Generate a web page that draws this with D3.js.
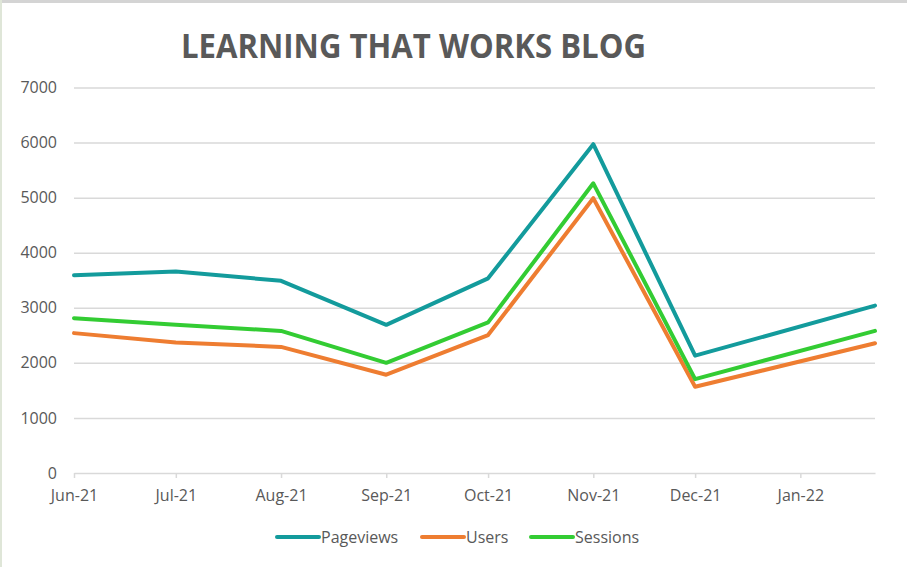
<!DOCTYPE html>
<html>
<head>
<meta charset="utf-8">
<script src="https://cdn.jsdelivr.net/npm/d3@7"></script>
<style>
  body { margin: 0; background: #fff; }
  svg { display: block; }
</style>
</head>
<body>
<svg id="chart" width="907" height="567"></svg>
<script>
// data
const dates = ['2021-06-01', '2021-07-01', '2021-08-01', '2021-09-01', '2021-10-01',
               '2021-11-01', '2021-12-01', '2022-01-23'];
const pageviews = [3590, 3660, 3490, 2690, 3535, 5970, 2130, 3040];
const users = [2540, 2370, 2290, 1785, 2505, 4990, 1565, 2355];
const sessions = [2810, 2690, 2580, 2000, 2735, 5260, 1705, 2580];
const yTicks = [0, 1000, 2000, 3000, 4000, 5000, 6000, 7000];
const monthTicks = ['2021-06-01', '2021-07-01', '2021-08-01', '2021-09-01', '2021-10-01',
                    '2021-11-01', '2021-12-01', '2022-01-01'];

const series = [
  { name: 'Pageviews', values: pageviews, color: '#139b9c' },
  { name: 'Users', values: users, color: '#ee7d31' },
  { name: 'Sessions', values: sessions, color: '#33cc33' }
];

const parse = d3.utcParse('%Y-%m-%d');
const fmt = d3.utcFormat('%b-%y');
const W = 907, H = 567;
const margin = { left: 74, right: 32, top: 87.5, bottom: 94 };
const font = 'Open Sans, sans-serif';

const svg = d3.select('#chart');

// chart frame
svg.append('line').attr('x1', 0).attr('x2', W).attr('y1', 1.5).attr('y2', 1.5)
  .attr('stroke', '#d4d4d4').attr('stroke-width', 3);
svg.append('line').attr('x1', 1).attr('x2', 1).attr('y1', 0).attr('y2', H)
  .attr('stroke', '#dfe6d8').attr('stroke-width', 2);

const x = d3.scaleUtc()
  .domain([parse(dates[0]), parse(dates[dates.length - 1])])
  .range([margin.left, W - margin.right]);
const y = d3.scaleLinear()
  .domain([0, 7000])
  .range([H - margin.bottom, margin.top]);

// title
svg.append('text')
  .attr('x', 413.5).attr('y', 58)
  .attr('text-anchor', 'middle')
  .attr('font-family', font)
  .attr('font-weight', 'bold')
  .attr('font-size', 34)
  .attr('fill', '#595959')
  .attr('textLength', 465)
  .attr('lengthAdjust', 'spacingAndGlyphs')
  .text('LEARNING THAT WORKS BLOG');

// grid
const yAxis = svg.append('g')
  .attr('transform', `translate(${margin.left},0)`)
  .call(d3.axisLeft(y).tickValues(yTicks).tickFormat(d3.format('d'))
    .tickSize(-(W - margin.left - margin.right)).tickPadding(17));
yAxis.select('.domain').remove();
yAxis.selectAll('.tick line').attr('stroke', '#d9d9d9').attr('stroke-width', 1.5)
  .attr('display', d => d === 0 ? 'none' : null);
yAxis.selectAll('.tick text')
  .attr('font-family', font).attr('font-size', 16).attr('fill', '#595959');

// x axis
const xAxis = svg.append('g')
  .attr('transform', `translate(0,${y(0)})`)
  .call(d3.axisBottom(x).tickValues(monthTicks.map(parse)).tickFormat(fmt)
    .tickSize(5).tickPadding(12).tickSizeOuter(0));
xAxis.select('.domain').attr('stroke', '#d9d9d9').attr('stroke-width', 1.5);
xAxis.selectAll('.tick line').attr('stroke', '#d9d9d9').attr('stroke-width', 1.5);
xAxis.selectAll('.tick text')
  .attr('font-family', font).attr('font-size', 16).attr('fill', '#595959');

// lines
const line = d3.line()
  .x((d, i) => x(parse(dates[i])))
  .y(d => y(d));

svg.append('g').selectAll('path')
  .data(series)
  .enter()
  .append('path')
  .attr('d', d => line(d.values))
  .attr('fill', 'none')
  .attr('stroke', d => d.color)
  .attr('stroke-width', 4)
  .attr('stroke-linejoin', 'round')
  .attr('stroke-linecap', 'round');

// legend
const legendX = [277, 422, 531];
const legend = svg.append('g').selectAll('g')
  .data(series)
  .enter()
  .append('g')
  .attr('transform', (d, i) => `translate(${legendX[i]},537)`);
legend.append('line')
  .attr('x1', 0).attr('x2', 42)
  .attr('stroke', d => d.color).attr('stroke-width', 4).attr('stroke-linecap', 'round');
legend.append('text')
  .attr('x', 44).attr('y', 6)
  .attr('font-family', font).attr('font-size', 16).attr('fill', '#595959')
  .text(d => d.name);
</script>
</body>
</html>
